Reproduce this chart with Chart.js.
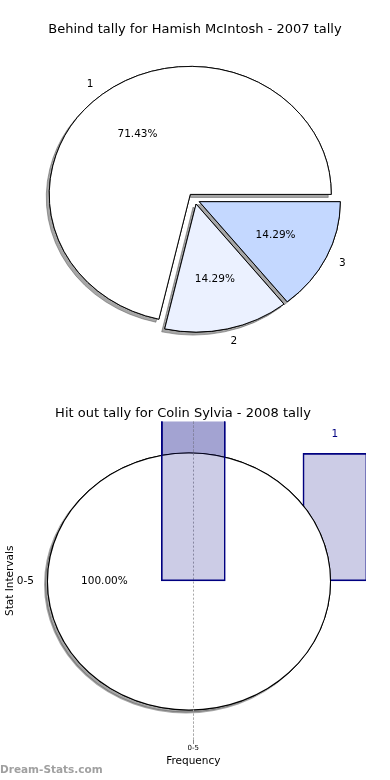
<!DOCTYPE html>
<html>
<head>
<meta charset="utf-8">
<script src="https://cdn.jsdelivr.net/npm/chart.js@4/dist/chart.umd.min.js"></script>
<style>
  html, body { margin: 0; background: #fff; }
  #wrap { position: relative; width: 390px; height: 780px; overflow: hidden; }
  #wrap canvas { position: absolute; left: 0; }
  #mark { position: absolute; left: 0; top: 762px; font: bold 10.5px "DejaVu Sans", sans-serif; line-height: 14px; color: #a0a0a0; }
</style>
</head>
<body>
<div id="wrap">
  <canvas id="pieTop" width="390" height="390" style="top:0"></canvas>
  <canvas id="barUnder" width="390" height="390" style="top:390px"></canvas>
  <canvas id="pieBottom" width="390" height="390" style="top:390px"></canvas>
  <canvas id="barOver" width="390" height="390" style="top:390px"></canvas>
  <div id="mark">Dream-Stats.com</div>
</div>
<script>
/* two charts: an exploded pie, then a pie sitting between two layers of a bar chart */
const pieTitle  = 'Behind tally for Hamish McIntosh - 2007 tally';
const pieLabels = ['1', '2', '3'];
const pieValues = [5, 1, 1];

const hitTitle  = 'Hit out tally for Colin Sylvia - 2008 tally';
const hitLabels = ['0-5'];
const hitValues = [1];

const freqTicks  = ['0-5'];
const freqX      = [0, 0.82];
const freqValues = [2, 1];
const freqText   = ['', '1'];

Chart.defaults.font.family = "'DejaVu Sans', sans-serif";
const FONT = '10.5px "DejaVu Sans", sans-serif';
const rev = a => a.slice().reverse();

// squashed (elliptic) pie with explode + drop shadow, labels at 0.6r / 1.1r
const pieStyle = {
  id: 'pieStyle',
  beforeDatasetDraw(chart, args, o) {
    const ctx = chart.ctx, arcs = args.meta.data;
    if (!arcs.length) return;
    const cx = arcs[0].x, cy = arcs[0].y;
    const passes = o.seamless ? ['shadow', 'plain', 'fill'] : ['shadow', 'plain'];
    for (const pass of passes) {
      arcs.forEach((arc, i) => {
        const mid = (arc.startAngle + arc.endAngle) / 2;
        const d = (o.explode[i] || 0) * arc.outerRadius;
        ctx.save();
        ctx.translate(cx, cy); ctx.scale(1, o.squash); ctx.translate(-cx, -cy);
        ctx.translate(Math.cos(mid) * d, Math.sin(mid) * d);
        if (pass === 'shadow') {
          ctx.shadowColor = 'rgba(77,77,77,0.5)';
          ctx.shadowOffsetX = -3;
          ctx.shadowOffsetY = 3;
        }
        if (pass === 'fill') {
          // refill only, hides the radial seam of a one-slice pie
          const stroke = ctx.stroke;
          ctx.stroke = () => {};
          arc.draw(ctx);
          ctx.stroke = stroke;
        } else {
          arc.draw(ctx);
        }
        ctx.restore();
      });
    }
    return false;
  },
  afterDatasetsDraw(chart, args, o) {
    const ctx = chart.ctx, arcs = chart.getDatasetMeta(0).data;
    const values = chart.data.datasets[0].data;
    const total = values.reduce((s, v) => s + v, 0);
    ctx.save();
    ctx.font = FONT;
    ctx.fillStyle = '#000';
    ctx.textBaseline = 'middle';
    arcs.forEach((arc, i) => {
      const mid = (arc.startAngle + arc.endAngle) / 2;
      const r = arc.outerRadius, c = Math.cos(mid), s = Math.sin(mid) * o.squash;
      const d = (o.explode[i] || 0) * r;
      const x0 = arc.x + c * d, y0 = arc.y + s * d;
      ctx.textAlign = 'center';
      ctx.fillText((values[i] / total * 100).toFixed(2) + '%', x0 + c * r * 0.6, y0 + s * r * 0.6);
      ctx.textAlign = c < 0 ? 'right' : 'left';
      ctx.fillText(chart.data.labels[i], x0 + c * r * 1.1, y0 + s * r * 1.1);
    });
    ctx.restore();
  }
};

function pieChart(id, cfg) {
  return new Chart(document.getElementById(id), {
    type: 'pie',
    data: {
      labels: cfg.labels,
      datasets: [{
        data: cfg.values,
        backgroundColor: cfg.colors,
        borderColor: '#000',
        borderWidth: cfg.borderWidth || 1
      }]
    },
    options: {
      responsive: false,
      animation: false,
      rotation: 90,
      radius: 141,
      layout: { padding: cfg.padding },
      plugins: {
        legend: { display: false },
        tooltip: { enabled: false },
        title: cfg.title
          ? { display: true, text: cfg.title, color: '#000', font: { size: 13, weight: 'normal' }, padding: { top: 22, bottom: 10 } }
          : { display: false },
        pieStyle: { squash: 0.908, explode: cfg.explode, seamless: !!cfg.seamless }
      }
    },
    plugins: [pieStyle]
  });
}

// top: slices go counter-clockwise from 3 o'clock, so feed them reversed
pieChart('pieTop', {
  labels: rev(pieLabels),
  values: rev(pieValues),
  colors: rev(['#ffffff', '#ebf1ff', '#c4d8ff']),
  explode: rev([0.054, 0.034, 0.034]),
  title: pieTitle,
  padding: { top: 0, bottom: 38, left: 0, right: 0 }
});

// value label over the bars
const barText = {
  id: 'barText',
  afterDatasetsDraw(chart, args, o) {
    if (!o.show) return;
    const ctx = chart.ctx;
    ctx.save();
    ctx.font = FONT;
    ctx.fillStyle = '#000080';
    ctx.textAlign = 'center';
    ctx.textBaseline = 'middle';
    chart.getDatasetMeta(0).data.forEach((bar, i) => {
      if (freqText[i]) ctx.fillText(freqText[i], bar.x, bar.y - 19);
    });
    ctx.restore();
  }
};

function barChart(id, under) {
  const ink = under ? '#000' : 'rgba(0,0,0,0)';
  const pts = freqX.map((x, i) => ({ x, y: freqValues[i] }));
  return new Chart(document.getElementById(id), {
    type: 'bar',
    data: {
      datasets: [{
        data: under ? pts : pts.slice(0, 1),   // only the first bar shows over the pie
        backgroundColor: 'rgba(0,0,128,0.2)',
        borderColor: '#000080',
        borderWidth: 1,
        borderSkipped: false,
        barThickness: 64
      }]
    },
    options: {
      responsive: false,
      animation: false,
      layout: { padding: { top: 0, bottom: 12, left: 0, right: 24 } },
      scales: {
        x: {
          type: 'linear', min: -1, max: 1, offset: false,
          afterBuildTicks: ax => { ax.ticks = [{ value: 0 }]; },
          ticks: { callback: v => freqTicks[v], font: { size: 7 }, color: ink, padding: 0, maxRotation: 0 },
          grid: { offset: false, color: '#a8a8a8', tickColor: '#888', tickLength: 4 },
          border: { display: false, dash: [2, 2] },
          title: { display: true, text: 'Frequency', color: ink, font: { size: 10.5 }, padding: { top: 3, bottom: 0 } }
        },
        y: {
          min: -1.25, max: 1.25,
          ticks: { display: false, padding: 0 },
          grid: { display: false, drawTicks: false, tickLength: 0 },
          border: { display: false },
          title: { display: true, text: 'Stat Intervals', color: ink, font: { size: 10.5 }, padding: { top: 4, bottom: 4 } }
        }
      },
      plugins: {
        legend: { display: false },
        tooltip: { enabled: false },
        title: { display: true, text: hitTitle, color: ink, font: { size: 13, weight: 'normal' }, padding: { top: 16, bottom: 0 } },
        barText: { show: under }
      }
    },
    plugins: [barText]
  });
}

barChart('barUnder', true);
pieChart('pieBottom', {
  labels: hitLabels,
  values: hitValues,
  colors: ['#ffffff'],
  explode: [0],
  borderWidth: 2,
  seamless: true,
  padding: { top: 0, bottom: 7, left: 0, right: 12 }
});
barChart('barOver', false);
</script>
</body>
</html>
